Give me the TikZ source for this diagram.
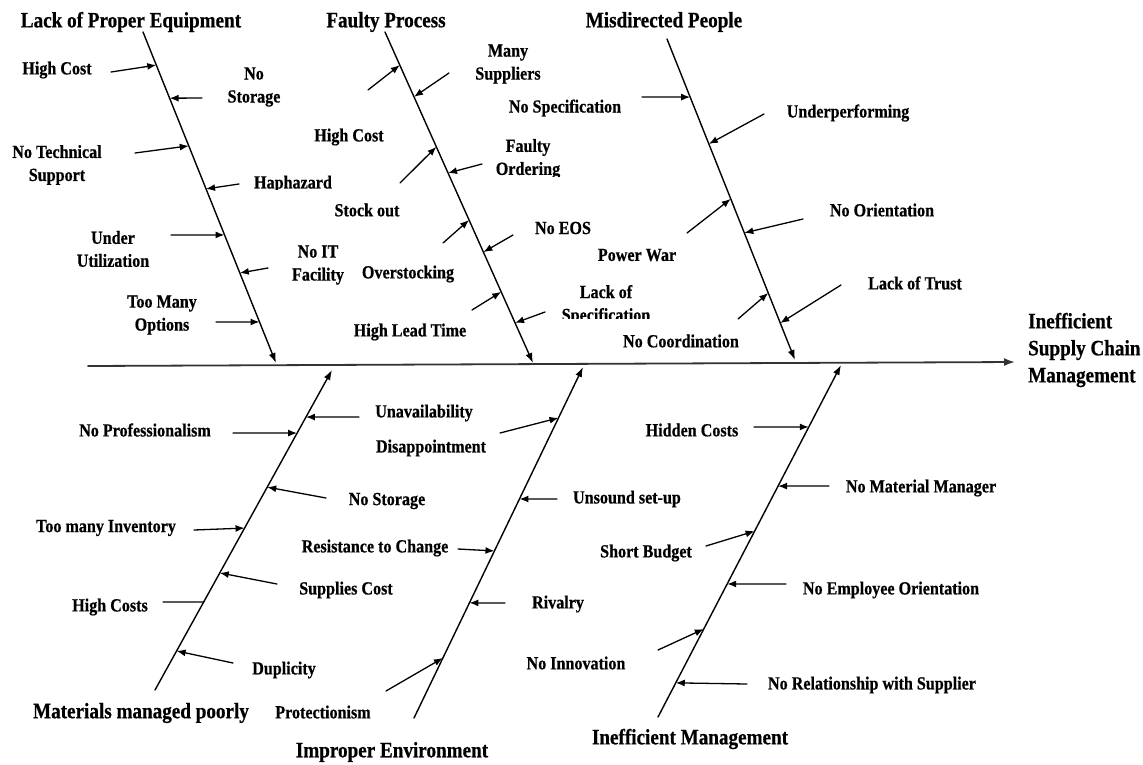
\documentclass[tikz,border=0pt]{standalone}
\usepackage{fontspec}
\setmainfont{Liberation Serif}[FakeStretch=0.87, BoldFeatures={FakeBold=0.6}]
\usetikzlibrary{calc,arrows.meta}

\begin{document}
\begin{tikzpicture}[x=1pt, y=-1pt, line cap=round, line join=round]
  \useasboundingbox (0,0) rectangle (1143,764);
  \tikzset{
    spine/.style={line width=1.8pt, draw=black!80, -{Latex[length=11pt,width=8pt]}},
    bone/.style={line width=1.4pt, -{Latex[length=10pt,width=7pt]}},
    cause/.style={line width=1.3pt, -{Latex[length=9pt,width=7pt]}},
    plain/.style={line width=1.3pt},
    lab/.style={font=\fontsize{18.5}{23}\selectfont\bfseries, align=center, inner sep=0pt},
    head/.style={font=\fontsize{22}{27}\selectfont\bfseries, inner sep=0pt}
  }

  % --- spine and bones
  \coordinate (S0) at (88,366);
  \coordinate (S1) at (1015,362);

  \coordinate (B1s) at (143,32);  \coordinate (B1e) at (276,363);
  \coordinate (B2s) at (385,32);  \coordinate (B2e) at (533,363);
  \coordinate (B3s) at (667,39);  \coordinate (B3e) at (795,360);
  \coordinate (B4s) at (155,690); \coordinate (B4e) at (332,370);
  \coordinate (B5s) at (414,718); \coordinate (B5e) at (583,367);
  \coordinate (B6s) at (658,717); \coordinate (B6e) at (841,365);

  \draw[spine] (S0) -- (S1);
  \foreach \b in {1,...,6} \draw[bone] (B\b s) -- (B\b e);

  % --- heads of the bones
  \node[head] (h1) at (131,22)  {Lack of Proper Equipment};
  \node[head] (h2) at (386,22)  {Faulty Process};
  \node[head] (h3) at (664,22)  {Misdirected People};
  \node[head] (h4) at (141,713) {Materials managed poorly};
  \node[head] (h5) at (392,752) {Improper Environment};
  \node[head] (h6) at (690,739) {Inefficient Management};
  \node[head, align=left, anchor=west] (effect) at (1028,350)
    {Inefficient\\Supply Chain\\Management};

  % --- bone 1: lack of proper equipment
  \coordinate (B11t) at (111,72);  \coordinate (B11) at ($(B1s)!0.100!(B1e)$);
  \coordinate (B12t) at (202,98);  \coordinate (B12) at ($(B1s)!0.200!(B1e)$);
  \coordinate (B13t) at (135,153); \coordinate (B13) at ($(B1s)!0.344!(B1e)$);
  \coordinate (B14t) at (239,184); \coordinate (B14) at ($(B1s)!0.474!(B1e)$);
  \coordinate (B15t) at (171,235); \coordinate (B15) at ($(B1s)!0.613!(B1e)$);
  \coordinate (B16t) at (268,268); \coordinate (B16) at ($(B1s)!0.728!(B1e)$);
  \coordinate (B17t) at (216,322); \coordinate (B17) at ($(B1s)!0.876!(B1e)$);

  \draw[cause] (B11t) -- (B11);
  \draw[cause] (B12t) -- (B12);
  \draw[cause] (B13t) -- (B13);
  \draw[cause] (B14t) -- (B14);
  \draw[cause] (B15t) -- (B15);
  \draw[cause] (B16t) -- (B16);
  \draw[cause] (B17t) -- (B17);

  \node[lab] (b11lab) at (57,70)   {High Cost};
  \node[lab] (b12lab) at (254,87)  {No\\Storage};
  \node[lab] (b13lab) at (57,165)  {No Technical\\Support};
  \begin{scope}
    \clip (240,170) rectangle (350,189);
    \node[lab] (b14lab) at (293,184) {Haphazard};
  \end{scope}
  \node[lab] (b15lab) at (113,249) {Under\\Utilization};
  \node[lab] (b16lab) at (318,265) {No IT\\Facility};
  \node[lab] (b17lab) at (162,315) {Too Many\\Options};

  % --- bone 2: faulty process
  \coordinate (B21t) at (368,90);  \coordinate (B21) at ($(B2s)!0.100!(B2e)$);
  \coordinate (B22t) at (449,73);  \coordinate (B22) at ($(B2s)!0.196!(B2e)$);
  \coordinate (B23t) at (400,183); \coordinate (B23) at ($(B2s)!0.347!(B2e)$);
  \coordinate (B24t) at (482,164); \coordinate (B24) at ($(B2s)!0.426!(B2e)$);
  \coordinate (B25t) at (443,243); \coordinate (B25) at ($(B2s)!0.568!(B2e)$);
  \coordinate (B26t) at (513,235); \coordinate (B26) at ($(B2s)!0.665!(B2e)$);
  \coordinate (B27t) at (472,310); \coordinate (B27) at ($(B2s)!0.785!(B2e)$);
  \coordinate (B28t) at (545,312); \coordinate (B28) at ($(B2s)!0.879!(B2e)$);

  \draw[cause] (B21t) -- (B21);
  \draw[cause] (B22t) -- (B22);
  \draw[cause] (B23t) -- (B23);
  \draw[cause] (B24t) -- (B24);
  \draw[cause] (B25t) -- (B25);
  \draw[cause] (B26t) -- (B26);
  \draw[cause] (B27t) -- (B27);
  \draw[cause] (B28t) -- (B28);

  \node[lab] (b21lab) at (349,137) {High Cost};
  \node[lab] (b22lab) at (508,64)  {Many\\Suppliers};
  \node[lab] (b23lab) at (367,210) {Stock out};
  \begin{scope}
    \clip (470,130) rectangle (590,176);
    \node[lab] (b24lab) at (528,159) {Faulty\\Ordering};
  \end{scope}
  \node[lab] (b25lab) at (408,274) {Overstocking};
  \node[lab] (b26lab) at (563,228) {No EOS};
  \node[lab] (b27lab) at (410,332) {High Lead Time};
  \begin{scope}
    \clip (540,280) rectangle (670,318);
    \node[lab] (b28lab) at (606,305) {Lack of\\Specification};
  \end{scope}

  % --- bone 3: misdirected people
  \coordinate (B31t) at (642,97);  \coordinate (B31) at ($(B3s)!0.181!(B3e)$);
  \coordinate (B32t) at (764,114); \coordinate (B32) at ($(B3s)!0.327!(B3e)$);
  \coordinate (B33t) at (687,233); \coordinate (B33) at ($(B3s)!0.498!(B3e)$);
  \coordinate (B34t) at (803,219); \coordinate (B34) at ($(B3s)!0.604!(B3e)$);
  \coordinate (B35t) at (738,319); \coordinate (B35) at ($(B3s)!0.791!(B3e)$);
  \coordinate (B36t) at (841,285); \coordinate (B36) at ($(B3s)!0.885!(B3e)$);

  \draw[cause] (B31t) -- (B31);
  \draw[cause] (B32t) -- (B32);
  \draw[cause] (B33t) -- (B33);
  \draw[cause] (B34t) -- (B34);
  \draw[cause] (B35t) -- (B35);
  \draw[cause] (B36t) -- (B36);

  \node[lab] (b31lab) at (565,108) {No Specification};
  \node[lab] (b32lab) at (848,113) {Underperforming};
  \node[lab] (b33lab) at (637,255) {Power War};
  \node[lab] (b34lab) at (882,210) {No Orientation};
  \node[lab] (b35lab) at (681,341) {No Coordination};
  \node[lab] (b36lab) at (915,283) {Lack of Trust};

  % --- bone 4: materials managed poorly
  \coordinate (B41t) at (359,417); \coordinate (B41) at ($(B4s)!0.853!(B4e)$);
  \coordinate (B42t) at (233,433); \coordinate (B42) at ($(B4s)!0.803!(B4e)$);
  \coordinate (B43t) at (326,498); \coordinate (B43) at ($(B4s)!0.634!(B4e)$);
  \coordinate (B44t) at (194,530); \coordinate (B44) at ($(B4s)!0.506!(B4e)$);
  \coordinate (B45t) at (277,584); \coordinate (B45) at ($(B4s)!0.366!(B4e)$);
  \coordinate (B46t) at (163,602); \coordinate (B46) at ($(B4s)!0.275!(B4e)$);
  \coordinate (B47t) at (233,663); \coordinate (B47) at ($(B4s)!0.122!(B4e)$);

  \draw[cause] (B41t) -- (B41);
  \draw[cause] (B42t) -- (B42);
  \draw[cause] (B43t) -- (B43);
  \draw[cause] (B44t) -- (B44);
  \draw[cause] (B45t) -- (B45);
  \draw[plain] (B46t) -- (B46);
  \draw[cause] (B47t) -- (B47);

  \node[lab] (b41lab) at (424,413) {Unavailability};
  \node[lab] (b42lab) at (145,430) {No Professionalism};
  \node[lab] (b43lab) at (387,501) {No Storage};
  \node[lab] (b44lab) at (106,528) {Too many Inventory};
  \node[lab] (b45lab) at (346,590) {Supplies Cost};
  \node[lab] (b46lab) at (110,607) {High Costs};
  \node[lab] (b47lab) at (284,670) {Duplicity};

  % --- bone 5: improper environment
  \coordinate (B51t) at (500,433); \coordinate (B51) at ($(B5s)!0.855!(B5e)$);
  \coordinate (B52t) at (557,499); \coordinate (B52) at ($(B5s)!0.624!(B5e)$);
  \coordinate (B53t) at (458,549); \coordinate (B53) at ($(B5s)!0.476!(B5e)$);
  \coordinate (B54t) at (505,603); \coordinate (B54) at ($(B5s)!0.328!(B5e)$);
  \coordinate (B55t) at (386,691); \coordinate (B55) at ($(B5s)!0.171!(B5e)$);

  \draw[cause] (B51t) -- (B51);
  \draw[cause] (B52t) -- (B52);
  \draw[cause] (B53t) -- (B53);
  \draw[cause] (B54t) -- (B54);
  \draw[cause] (B55t) -- (B55);

  \node[lab] (b51lab) at (431,448) {Disappointment};
  \node[lab] (b52lab) at (627,499) {Unsound set-up};
  \node[lab] (b53lab) at (375,548) {Resistance to Change};
  \node[lab] (b54lab) at (558,604) {Rivalry};
  \node[lab] (b55lab) at (323,712) {Protectionism};

  % --- bone 6: inefficient management
  \coordinate (B61t) at (754,427); \coordinate (B61) at ($(B6s)!0.824!(B6e)$);
  \coordinate (B62t) at (829,486); \coordinate (B62) at ($(B6s)!0.656!(B6e)$);
  \coordinate (B63t) at (706,546); \coordinate (B63) at ($(B6s)!0.528!(B6e)$);
  \coordinate (B64t) at (786,584); \coordinate (B64) at ($(B6s)!0.378!(B6e)$);
  \coordinate (B65t) at (658,650); \coordinate (B65) at ($(B6s)!0.250!(B6e)$);
  \coordinate (B66t) at (747,684); \coordinate (B66) at ($(B6s)!0.097!(B6e)$);

  \draw[cause] (B61t) -- (B61);
  \draw[cause] (B62t) -- (B62);
  \draw[cause] (B63t) -- (B63);
  \draw[cause] (B64t) -- (B64);
  \draw[cause] (B65t) -- (B65);
  \draw[cause] (B66t) -- (B66);

  \node[lab] (b61lab) at (692,430) {Hidden Costs};
  \node[lab] (b62lab) at (921,488) {No Material Manager};
  \node[lab] (b63lab) at (646,553) {Short Budget};
  \node[lab] (b64lab) at (891,590) {No Employee Orientation};
  \node[lab] (b65lab) at (576,663) {No Innovation};
  \node[lab] (b66lab) at (872,685) {No Relationship with Supplier};

\end{tikzpicture}
\end{document}
